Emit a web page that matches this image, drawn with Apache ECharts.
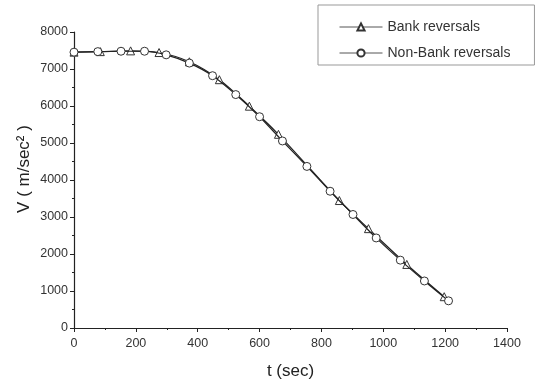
<!DOCTYPE html>
<html>
<head>
<meta charset="utf-8">
<script src="https://cdn.jsdelivr.net/npm/echarts@6/dist/echarts.min.js"></script>
<style>
html,body{margin:0;padding:0;background:#fff;}
#chart{width:535px;height:385px;}
</style>
</head>
<body>
<div id="chart"></div>
<script>
// Non-Bank reversals (circles)
const nonBankT = [0, 77, 152, 228, 298, 373, 448, 523, 600, 674, 753, 828, 902, 977, 1055, 1133, 1211];
const nonBankV = [7455, 7470, 7480, 7480, 7383, 7160, 6819, 6309, 5710, 5055, 4367, 3696, 3068, 2434, 1834, 1271, 734];
// Bank reversals (triangles)
const bankT = [0, 85, 183, 275, 373, 470, 567, 661, 858, 952, 1076, 1197];
const bankV = [7455, 7470, 7490, 7445, 7195, 6711, 5995, 5235, 3445, 2685, 1718, 846];

const xTicks = [0, 200, 400, 600, 800, 1000, 1200, 1400];
const yTicks = [0, 1000, 2000, 3000, 4000, 5000, 6000, 7000, 8000];

function pairs(t, v) { return t.map((x, i) => [x, v[i]]); }

const chart = echarts.init(document.getElementById('chart'), null, {renderer: 'canvas'});
const font = 'Liberation Sans, Arial, sans-serif';
chart.setOption({
  animation: false,
  backgroundColor: '#fff',
  grid: {left: 74, right: 28, top: 32, bottom: 55, containLabel: false},
  legend: {
    orient: 'vertical',
    left: 318, top: 5,
    padding: [15, 24, 5, 21],
    itemGap: 12,
    itemWidth: 43, itemHeight: 9,
    borderColor: '#999', borderWidth: 1,
    textStyle: {fontFamily: font, fontSize: 14, color: '#333'},
    lineStyle: {width: 1, color: '#555'},
    data: ['Bank reversals', 'Non-Bank reversals']
  },
  xAxis: {
    type: 'value', min: xTicks[0], max: xTicks[xTicks.length - 1], interval: 200,
    name: 't (sec)', nameLocation: 'middle', nameGap: 35,
    nameTextStyle: {fontFamily: font, fontSize: 17, color: '#222'},
    axisLine: {lineStyle: {color: '#222', width: 1.2}},
    axisTick: {show: true, inside: false, length: 4, lineStyle: {color: '#222'}},
    minorTick: {show: true, splitNumber: 2, length: 2, lineStyle: {color: '#222'}},
    axisLabel: {fontFamily: font, fontSize: 12.5, color: '#333', margin: 9, formatter: v => String(v)},
    splitLine: {show: false}
  },
  yAxis: {
    type: 'value', min: yTicks[0], max: yTicks[yTicks.length - 1], interval: 1000,
    name: 'V ( m/sec\u00B2 )', nameLocation: 'middle', nameGap: 41, nameMoveOverlap: false,
    nameTextStyle: {fontFamily: font, fontSize: 17, color: '#222', padding: [0, 0, 0, 22]},
    axisLine: {show: true, lineStyle: {color: '#222', width: 1.2}},
    axisTick: {show: true, inside: false, length: 4, lineStyle: {color: '#222'}},
    minorTick: {show: true, splitNumber: 2, length: 2, lineStyle: {color: '#222'}},
    axisLabel: {fontFamily: font, fontSize: 12.5, color: '#333', margin: 6, formatter: v => String(v)},
    splitLine: {show: false}
  },
  series: [
    {
      name: 'Bank reversals', type: 'line',
      data: pairs(bankT, bankV),
      smooth: 0.3,
      symbol: 'triangle', symbolSize: 8, showAllSymbol: true,
      lineStyle: {color: '#222', width: 1.2},
      itemStyle: {color: '#fff', borderColor: '#333', borderWidth: 1},
      z: 3
    },
    {
      name: 'Non-Bank reversals', type: 'line',
      data: pairs(nonBankT, nonBankV),
      smooth: 0.3,
      symbol: 'circle', symbolSize: 8, showAllSymbol: true,
      lineStyle: {color: '#222', width: 1.2},
      itemStyle: {color: '#fff', borderColor: '#333', borderWidth: 1},
      z: 4
    }
  ]
});
</script>
</body>
</html>
